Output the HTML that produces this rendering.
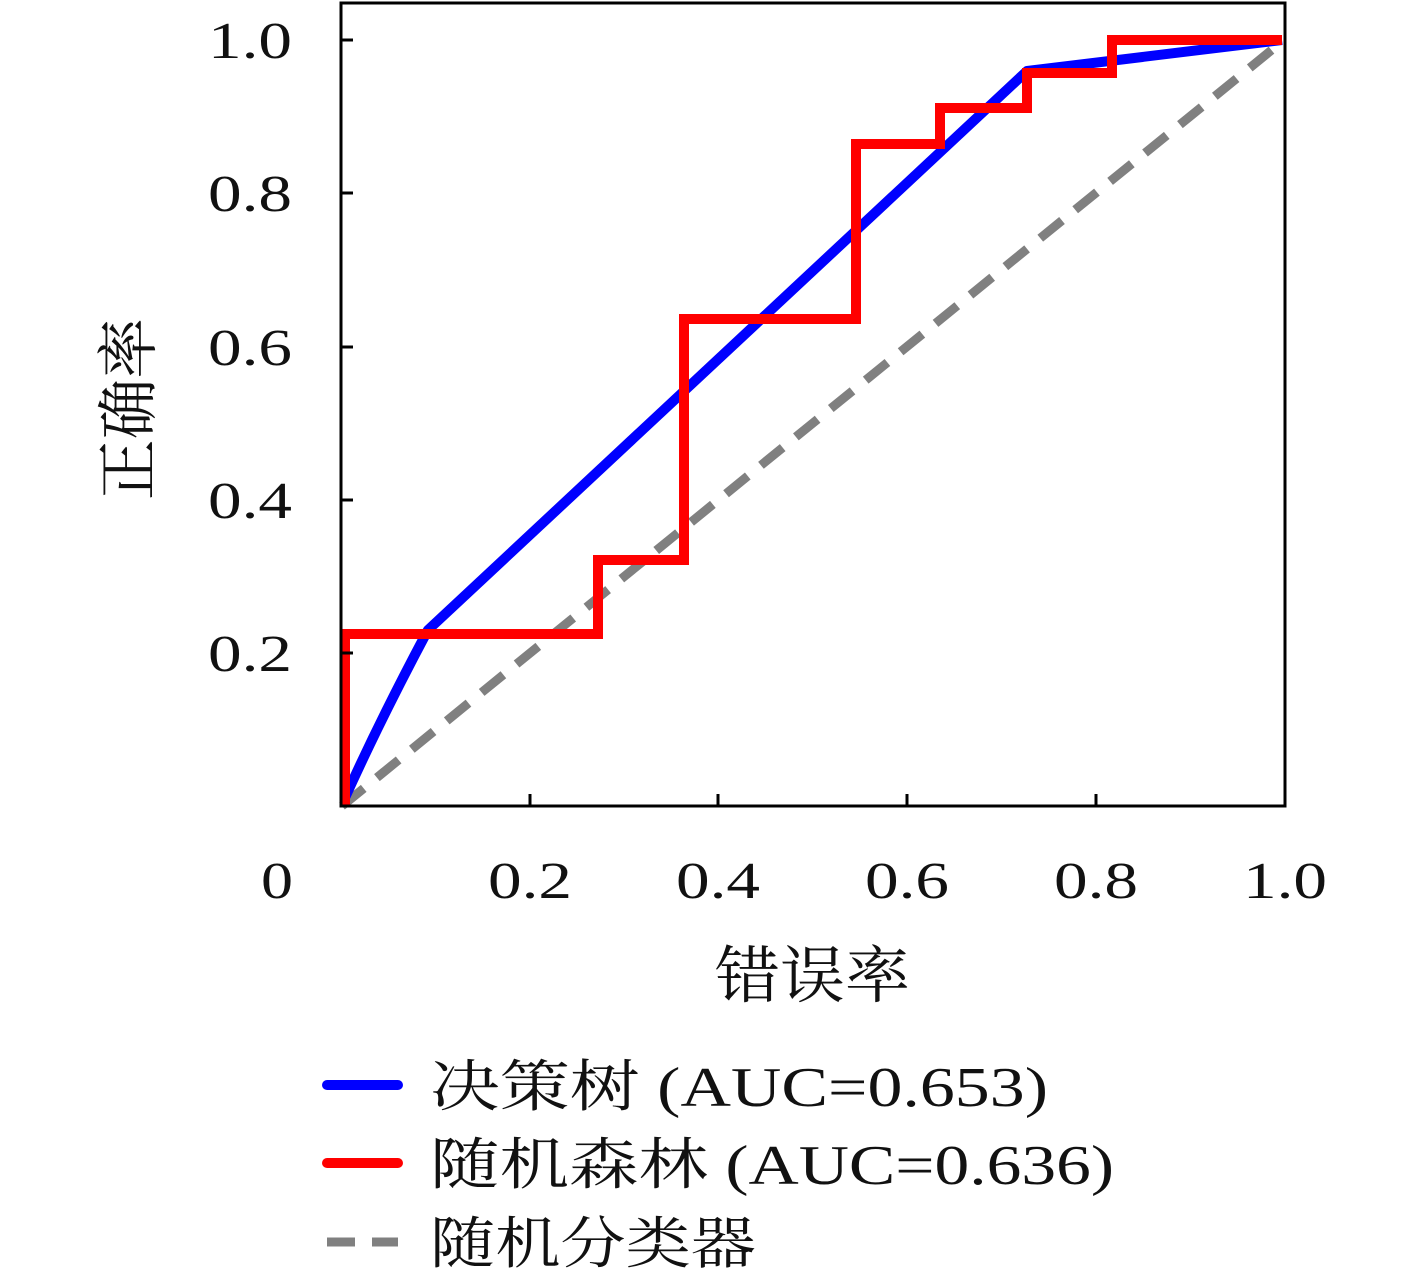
<!DOCTYPE html>
<html><head><meta charset="utf-8"><style>
html,body{margin:0;padding:0;background:#fff;}
svg text{font-family:"Liberation Serif","Noto Serif CJK SC",serif;fill:#111;}
</style></head><body>
<svg width="1417" height="1275" viewBox="0 0 1417 1275" xmlns="http://www.w3.org/2000/svg">
<rect x="0" y="0" width="1417" height="1275" fill="#fff"/>
<line x1="342" y1="806" x2="1284" y2="40" stroke="#808080" stroke-width="9" stroke-dasharray="28,17"/>
<path d="M344,800 Q380,720 428,630 L1027,71 L1282,40" fill="none" stroke="#0000ff" stroke-width="10" stroke-linejoin="round"/>
<polyline points="345,806 345,634 598,634 598,560 684,560 684,319 856,319 856,144 940,144 940,108 1027,108 1027,73 1112,73 1112,40 1282,40" fill="none" stroke="#ff0000" stroke-width="10" stroke-linejoin="miter"/>
<rect x="341" y="3" width="944" height="803" fill="none" stroke="#000" stroke-width="3"/>
<g stroke="#000" stroke-width="3">
<line x1="530" y1="806" x2="530" y2="794"/><line x1="718" y1="806" x2="718" y2="794"/>
<line x1="907" y1="806" x2="907" y2="794"/><line x1="1096" y1="806" x2="1096" y2="794"/>
<line x1="341" y1="653" x2="353" y2="653"/><line x1="341" y1="500" x2="353" y2="500"/>
<line x1="341" y1="347" x2="353" y2="347"/><line x1="341" y1="193" x2="353" y2="193"/>
<line x1="341" y1="40" x2="353" y2="40"/>
</g>
<g font-size="52">
<text x="208" y="58" textLength="84" lengthAdjust="spacingAndGlyphs">1.0</text>
<text x="208" y="211" textLength="84" lengthAdjust="spacingAndGlyphs">0.8</text>
<text x="208" y="365" textLength="84" lengthAdjust="spacingAndGlyphs">0.6</text>
<text x="208" y="518" textLength="84" lengthAdjust="spacingAndGlyphs">0.4</text>
<text x="208" y="671" textLength="84" lengthAdjust="spacingAndGlyphs">0.2</text>
<text x="261" y="898" textLength="32" lengthAdjust="spacingAndGlyphs">0</text>
<text x="488" y="898" textLength="84" lengthAdjust="spacingAndGlyphs">0.2</text>
<text x="676" y="898" textLength="84" lengthAdjust="spacingAndGlyphs">0.4</text>
<text x="865" y="898" textLength="84" lengthAdjust="spacingAndGlyphs">0.6</text>
<text x="1054" y="898" textLength="84" lengthAdjust="spacingAndGlyphs">0.8</text>
<text x="1243" y="898" textLength="84" lengthAdjust="spacingAndGlyphs">1.0</text>
</g>
<text x="715" y="997" font-size="62" textLength="195" lengthAdjust="spacingAndGlyphs">错误率</text>
<text transform="translate(150,500) rotate(-90)" font-size="62" textLength="182" lengthAdjust="spacingAndGlyphs">正确率</text>
<line x1="327" y1="1085" x2="398" y2="1085" stroke="#0000ff" stroke-width="10" stroke-linecap="round"/>
<line x1="327" y1="1163" x2="398" y2="1163" stroke="#ff0000" stroke-width="10" stroke-linecap="round"/>
<line x1="327" y1="1242" x2="398" y2="1242" stroke="#808080" stroke-width="9" stroke-dasharray="28,17"/>
<g font-size="56">
<text x="430" y="1106" textLength="618" lengthAdjust="spacingAndGlyphs">决策树 (AUC=0.653)</text>
<text x="430" y="1184" textLength="684" lengthAdjust="spacingAndGlyphs">随机森林 (AUC=0.636)</text>
<text x="430" y="1263" textLength="326" lengthAdjust="spacingAndGlyphs">随机分类器</text>
</g>
</svg>
</body></html>
